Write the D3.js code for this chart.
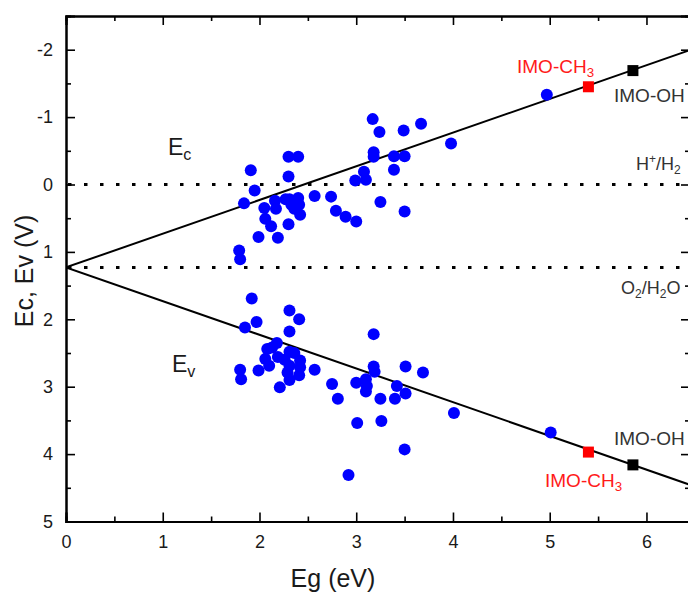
<!DOCTYPE html>
<html><head><meta charset="utf-8">
<script src="https://cdn.jsdelivr.net/npm/d3@7"></script>
<style>
html,body{margin:0;padding:0;background:#fff;}
text{font-family:"Liberation Sans",Arial,sans-serif;}
</style></head>
<body>
<svg id="chart" width="688" height="594"></svg>
<script>
// ---- data ----
const ecEg = [1.79,1.80,1.84,1.91,1.95,1.99,2.05,2.06,2.12,2.16,2.17,2.19,2.27,2.30,2.30,2.30,2.31,2.33,2.36,2.39,2.40,2.40,2.41,2.42,2.57,2.74,2.79,2.89,3.00,2.99,3.08,3.10,3.17,3.18,3.18,3.24,3.25,3.39,3.39,3.49,3.50,3.50,3.67,3.98,4.97];
const ecVal = [0.98,1.11,0.28,-0.21,0.09,0.78,0.35,0.51,0.62,0.24,0.36,0.79,0.22,-0.41,-0.12,0.59,0.22,0.30,0.36,0.24,-0.41,0.20,0.30,0.45,0.17,0.18,0.39,0.48,0.55,-0.06,-0.19,-0.07,-0.97,-0.48,-0.41,-0.78,0.26,-0.42,-0.22,-0.80,-0.42,0.40,-0.90,-0.61,-1.33];
const evEg = [1.92,1.85,1.97,2.31,2.41,2.31,2.18,2.08,2.13,2.31,2.06,2.19,2.42,2.10,2.31,2.42,2.57,1.80,1.81,1.99,2.29,2.41,2.31,2.21,2.75,2.81,3.00,3.10,3.11,3.10,3.18,3.18,3.19,3.51,3.69,3.42,3.51,3.25,3.40,3.01,3.26,4.01,3.50,2.92,5.01,2.36,2.26];
const evVal = [1.69,2.12,2.04,1.87,2.00,2.18,2.35,2.44,2.42,2.48,2.59,2.56,2.61,2.69,2.69,2.71,2.75,2.75,2.89,2.76,2.79,2.83,2.90,3.01,2.96,3.18,2.94,2.89,2.99,3.07,2.22,2.70,2.78,2.70,2.79,2.99,3.10,3.18,3.18,3.54,3.51,3.39,3.93,4.31,3.68,2.50,2.60];
const lineEg = [0, 6.45];
const ecLine = [1.23, -1.995];
const evLine = [1.23, 4.455];
const redoxLevels = [0, 1.23];
const imoNames = ["IMO-CH3", "IMO-OH"];
const imoEg = [5.40, 5.86];
const imoEc = [-1.45, -1.69];
const imoEv = [3.97, 4.16];
const imoColors = ["#ff0000", "#000000"];
const xTicks = [0,1,2,3,4,5,6];
const yTicks = [-2,-1,0,1,2,3,4,5];

// ---- layout ----
const svg = d3.select("#chart");
const L = 66, R = 690, T = 16, B = 521.5;
const x = d3.scaleLinear().domain([0, 6.45]).range([L, R]);
const y = d3.scaleLinear().domain([-2.5, 5]).range([T, B]);
const font = "Liberation Sans, Arial, sans-serif";

svg.append("clipPath").attr("id","clip").append("rect")
  .attr("x", L).attr("y", T).attr("width", R-L).attr("height", B-T);

const g = svg.append("g").attr("clip-path","url(#clip)");

// dotted redox lines
g.selectAll("line.redox").data(redoxLevels).enter().append("line")
  .attr("x1", x(0)).attr("x2", x(6.45))
  .attr("y1", d=>y(d)).attr("y2", d=>y(d))
  .attr("stroke","#000").attr("stroke-width",3)
  .attr("stroke-dasharray","3.5 12.5").attr("stroke-dashoffset", -2);

// Ec / Ev lines
const ln = d3.line().x((d,i)=>x(lineEg[i])).y(d=>y(d));
[ecLine, evLine].forEach(s=>{
  g.append("path").attr("d", ln(s)).attr("fill","none")
   .attr("stroke","#000").attr("stroke-width",2);
});

// scatter
const pts = g.append("g");
pts.selectAll("circle.ec").data(ecEg).enter().append("circle")
  .attr("cx", d=>x(d)).attr("cy", (d,i)=>y(ecVal[i])).attr("r",6).attr("fill","#0000ff");
pts.selectAll("circle.ev").data(evEg).enter().append("circle")
  .attr("cx", d=>x(d)).attr("cy", (d,i)=>y(evVal[i])).attr("r",6).attr("fill","#0000ff");

// IMO squares
const sq = 11;
imoEg.forEach((e,i)=>{
  [imoEc[i], imoEv[i]].forEach(v=>{
    g.append("rect").attr("x", x(e)-sq/2).attr("y", y(v)-sq/2)
      .attr("width", sq).attr("height", sq).attr("fill", imoColors[i]);
  });
});

// axes (ticks inward)
const axG = svg.append("g");
const axBottom = d3.axisBottom(x).tickValues(xTicks).tickSize(-9).tickPadding(14).tickFormat(d3.format("d"));
const axLeft = d3.axisLeft(y).tickValues(yTicks).tickSize(-9).tickPadding(13).tickFormat(d=>d<0?"-"+Math.abs(d):d);
axG.append("g").attr("transform",`translate(0,${B})`).call(axBottom);
axG.append("g").attr("transform",`translate(${L},0)`).call(axLeft);
axG.append("g").attr("transform",`translate(0,${T})`).call(d3.axisTop(x).tickValues(xTicks).tickSize(-9).tickFormat(""));
axG.append("g").attr("transform",`translate(${R},0)`).call(d3.axisRight(y).tickValues(yTicks).tickSize(-9).tickFormat(""));
// minor ticks
const xMinor = [0.5,1.5,2.5,3.5,4.5,5.5];
const yMinor = [-1.5,-0.5,0.5,1.5,2.5,3.5,4.5];
axG.append("g").attr("transform",`translate(0,${B})`).call(d3.axisBottom(x).tickValues(xMinor).tickSize(-5).tickFormat(""));
axG.append("g").attr("transform",`translate(0,${T})`).call(d3.axisTop(x).tickValues(xMinor).tickSize(-5).tickFormat(""));
axG.append("g").attr("transform",`translate(${L},0)`).call(d3.axisLeft(y).tickValues(yMinor).tickSize(-5).tickFormat(""));
axG.append("g").attr("transform",`translate(${R},0)`).call(d3.axisRight(y).tickValues(yMinor).tickSize(-5).tickFormat(""));
axG.selectAll("path.domain").attr("stroke","#000").attr("stroke-width",2);
axG.selectAll(".tick line").attr("stroke","#000").attr("stroke-width",1.6);
axG.selectAll(".tick text").attr("font-family",font).attr("font-size",18).attr("fill","#1a1a1a");

// axis titles
svg.append("text").attr("x", 333).attr("y", 587).attr("text-anchor","middle")
  .attr("font-family",font).attr("font-size",25).attr("fill","#1a1a1a").text("Eg (eV)");
svg.append("text").attr("transform","translate(33,271) rotate(-90)").attr("text-anchor","middle")
  .attr("font-family",font).attr("font-size",25).attr("fill","#1a1a1a").text("Ec, Ev (V)");

// annotations
function sub(xp, yp, main, s, size, color, subDy){
  const t = svg.append("text").attr("x",xp).attr("y",yp).attr("font-family",font)
    .attr("font-size",size).attr("fill",color);
  t.append("tspan").text(main);
  t.append("tspan").attr("dy",subDy).attr("font-size",size*0.7).text(s);
  return t;
}
sub(168, 155, "E", "c", 23, "#1a1a1a", 5);
sub(172, 372, "E", "v", 23, "#1a1a1a", 5);

// H+/H2
const h = svg.append("text").attr("x",636).attr("y",170).attr("font-family",font).attr("font-size",18).attr("fill","#333");
h.append("tspan").text("H");
h.append("tspan").attr("dy",-7).attr("font-size",12).text("+");
h.append("tspan").attr("dy",7).text("/H");
h.append("tspan").attr("dy",4).attr("font-size",12).text("2");

// O2/H2O
const o = svg.append("text").attr("x",621).attr("y",294).attr("font-family",font).attr("font-size",18).attr("fill","#333");
o.append("tspan").text("O");
o.append("tspan").attr("dy",4).attr("font-size",12).text("2");
o.append("tspan").attr("dy",-4).text("/H");
o.append("tspan").attr("dy",4).attr("font-size",12).text("2");
o.append("tspan").attr("dy",-4).text("O");

// IMO labels
sub(517, 73, "IMO-CH", "3", 19, "#ff1a1a", 4);
sub(545, 487, "IMO-CH", "3", 19, "#ff1a1a", 4);
svg.append("text").attr("x",614).attr("y",102).attr("font-family",font).attr("font-size",19).attr("fill","#333").text(imoNames[1]);
svg.append("text").attr("x",614).attr("y",445).attr("font-family",font).attr("font-size",19).attr("fill","#333").text(imoNames[1]);
</script>
</body></html>
